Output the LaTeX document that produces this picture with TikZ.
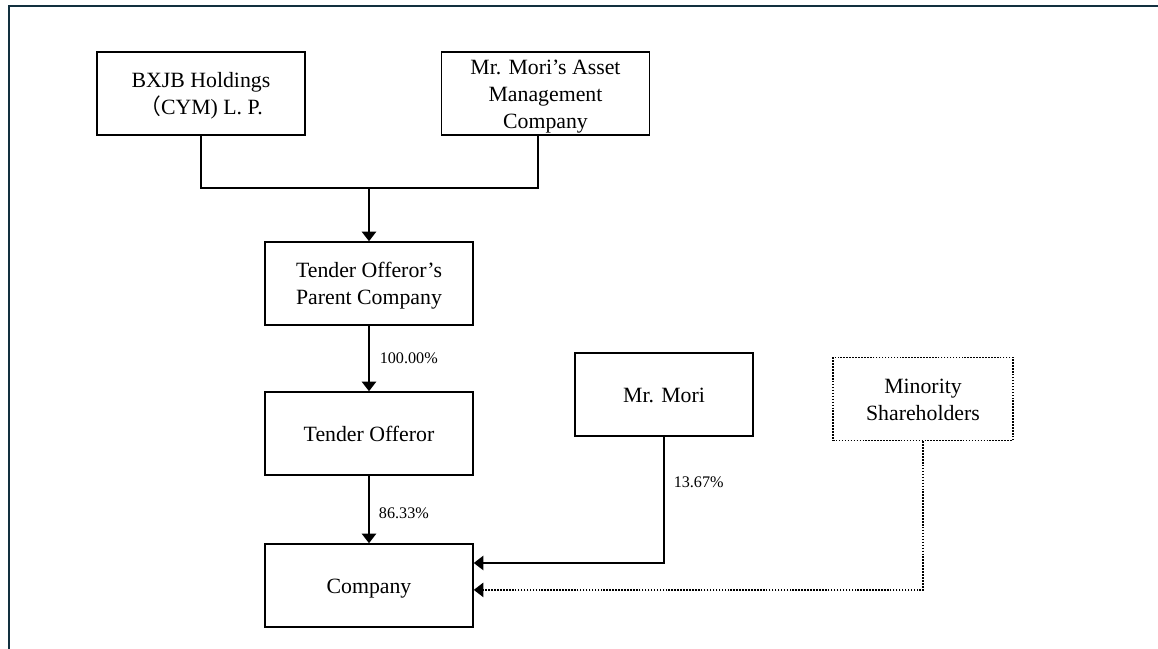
\documentclass[tikz,border=0pt]{standalone}
\usepackage{fontspec}
\setmainfont{Liberation Serif}
\newfontfamily\cjk{Noto Sans CJK JP}
\usetikzlibrary{arrows.meta}

\definecolor{framenavy}{HTML}{12303F}
\newcommand{\bs}{\rule[-0.22em]{0pt}{1.17em}}

\begin{document}
\begin{tikzpicture}
	[x=0.025cm,y=-0.025cm,
	box/.style={draw, line width=1.1pt, minimum width=5.2cm, minimum height=2.075cm, align=center, inner xsep=2pt, inner ysep=0pt, font=\fontsize{15.5}{19.2}\selectfont},
	pct/.style={anchor=west, inner sep=0pt, font=\fontsize{11.5}{13}\selectfont},
	link/.style={line width=1.1pt},
	tip/.style={-{Triangle[length=2.4mm,width=3.6mm]}}];

	%Frame
	\useasboundingbox (0,0) rectangle (1158,649);
	\draw[framenavy, line width=1.5pt] (9,649) -- (9,6) -- (1158,6);

	%Boxes
	\node[box] (bxjb) at (201,93.5) {\bs BXJB Holdings\\{\cjk （}CYM) L. P.\bs};
	\node[box] (asset) at (545.5,93.5) {\bs Mr. Mori’s Asset\\Management\\Company\bs};
	\node[box] (parent) at (369,283.5) {\bs Tender Offeror’s\\Parent Company\bs};
	\node[box] (offeror) at (369,433.5) {\bs Tender Offeror};
	\node[box] (company) at (369,585.5) {\bs Company};
	\node[box, minimum width=4.45cm] (mori) at (664,394.5) {\bs Mr. Mori};
	\node[box, minimum width=4.5cm, densely dotted] (minority) at (923,399) {\bs Minority\\Shareholders\bs};

	%Links
	\coordinate (join) at (369,188);
	\draw[link] (bxjb.south) |- (join);
	\draw[link] ([xshift=-0.19cm]asset.south) |- (join);
	\draw[link,tip] (join) -- (parent.north);
	\draw[link,tip] (parent.south) -- (offeror.north) node[pct, midway, xshift=0.25cm] (pparent) {100.00\%};
	\draw[link,tip] (offeror.south) -- (company.north) node[pct, midway, xshift=0.23cm, yshift=-0.1cm] (pofferor) {86.33\%};
	\draw[link,tip] (mori.south) |- ([yshift=0.5625cm]company.east) node[pct, pos=0.18, xshift=0.225cm] (pmori) {13.67\%};
	\draw[link,tip,densely dotted] (minority.south) |- ([yshift=-0.11cm]company.east);
\end{tikzpicture}
\end{document}
